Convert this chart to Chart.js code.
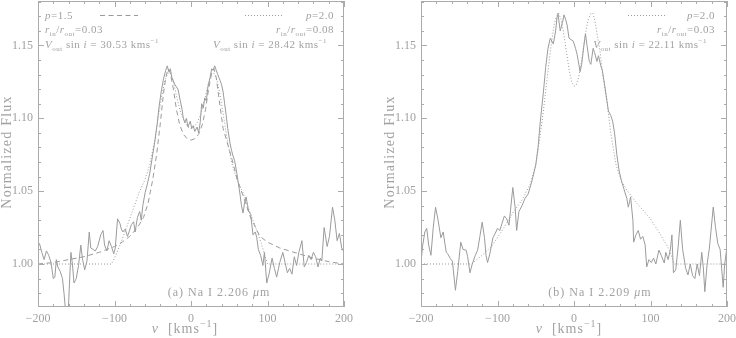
<!DOCTYPE html>
<html><head><meta charset="utf-8">
<script src="https://cdn.jsdelivr.net/npm/chart.js@4.4.0/dist/chart.umd.min.js"></script>
<style>
html,body{margin:0;padding:0;background:#fff;width:736px;height:338px;overflow:hidden}
canvas{position:absolute;top:0}
#ca{left:0}#cb{left:368px}
</style></head><body>
<canvas id="ca" width="368" height="338"></canvas>
<canvas id="cb" width="368" height="338"></canvas>
<script>
// ---------- data ----------
const xTicks = [-200, -100, 0, 100, 200];
const yTicks = [1.00, 1.05, 1.10, 1.15];

// Panel (a) Na I 2.206 observed
const obsA_v = [-200,-198,-195,-192,-189,-186,-183,-180,-178,-176,-174,-171,-168,-166,-163,-161,-159,-157,-155,-153,-150,-147,-144,-142,-139,-136,-133,-131,-128,-125,-122,-118,-115,-113,-110,-107,-104,-101,-99,-96,-93,-91,-89,-86,-83,-81,-78,-75,-73,-70,-67,-65,-63,-60,-57,-54,-51,-47,-44,-42,-39,-36,-33,-31,-29,-27,-25,-21,-17,-14,-12,-10,-8,-6,-4,-1,1,3,5,8,10,12,14,16,18,20,22,25,27,29,31,33,35,38,40,42,44,46,48,51,53,55,57,60,62,64,66,68,70,72,74,75,78,81,84,86,88,91,94,96,99,102,106,109,112,116,120,123,126,129,132,135,138,141,145,148,151,154,157,160,163,166,169,171,174,178,181,185,188,191,194,197,200];
const obsA_f = [1.012,1.014,1.008,1.003,1.009,1.006,1.001,0.990,0.991,1.003,0.998,0.995,0.990,0.980,0.962,0.960,0.985,1.008,1.000,0.987,0.990,0.999,1.013,1.004,0.996,1.002,1.022,1.011,1.010,1.009,1.012,1.020,1.023,1.013,1.009,1.016,1.012,1.007,1.011,1.031,1.028,1.024,1.022,1.024,1.019,1.022,1.027,1.029,1.022,1.032,1.036,1.030,1.040,1.049,1.055,1.062,1.072,1.085,1.097,1.107,1.118,1.127,1.133,1.136,1.132,1.134,1.128,1.123,1.120,1.112,1.107,1.100,1.097,1.100,1.094,1.098,1.093,1.095,1.091,1.094,1.090,1.097,1.110,1.107,1.114,1.112,1.121,1.128,1.134,1.133,1.136,1.133,1.130,1.126,1.123,1.118,1.110,1.102,1.093,1.083,1.078,1.074,1.071,1.062,1.055,1.048,1.040,1.035,1.042,1.046,1.040,1.037,1.034,1.020,1.022,1.018,1.010,1.006,0.999,1.008,0.987,0.993,1.004,0.997,0.991,1.001,1.008,1.001,0.994,0.997,0.993,1.005,0.999,1.008,1.016,0.998,1.001,1.006,1.003,1.008,1.005,0.998,1.004,1.002,1.025,1.012,1.019,1.039,1.030,1.016,1.021,1.011,1.008];

// Panel (a) model p=1.5 (dashed)
const modA15_v = [-200,-180,-160,-140,-120,-100,-90,-80,-70,-62,-56,-50,-45,-40,-36,-33,-30,-27,-23,-19,-15,-10,-5,0,5,10,15,19,23,27,30,33,37,42,47,53,61,70,77,90,100,116,138,160,181,200];
const modA15_f = [1.000,1.001,1.003,1.005,1.008,1.012,1.015,1.019,1.025,1.032,1.042,1.058,1.075,1.097,1.117,1.128,1.134,1.131,1.120,1.106,1.096,1.089,1.086,1.085,1.086,1.089,1.096,1.106,1.120,1.131,1.134,1.128,1.112,1.093,1.084,1.073,1.057,1.044,1.033,1.019,1.015,1.011,1.0075,1.004,1.0015,1.000];

// Panel (a) model p=2.0 (dotted)
const modA20_v = [-200,-104,-100,-92,-85,-76,-68,-60,-54,-48,-43,-38,-34,-30,-27,-23,-18,-13,-8,-4,0,4,8,13,18,23,27,30,34,38,43,48,54,60,68,76,86,92,97,100,200];
const modA20_f = [1.000,1.000,1.004,1.014,1.024,1.037,1.049,1.058,1.068,1.083,1.100,1.116,1.126,1.131,1.131,1.125,1.113,1.103,1.097,1.094,1.093,1.094,1.097,1.103,1.113,1.125,1.131,1.131,1.126,1.116,1.100,1.083,1.068,1.058,1.049,1.037,1.023,1.014,1.005,1.000,1.000];

// Panel (b) Na I 2.209 observed
const obsB_v = [-200,-198,-195,-192.5,-190,-187,-184,-181,-178,-174,-171,-167,-165,-162,-159,-155,-152,-148,-145,-141,-139,-136,-133,-129,-126,-123,-120,-117,-115,-113,-110,-106,-103,-100,-97,-94,-91,-88,-85,-83,-80,-77,-75,-72,-68,-64,-60,-55,-50,-47,-44,-40,-37,-34,-31,-29,-27,-24,-22,-21,-18,-15,-13,-11,-9,-6.5,-4,-1,2,4,6,8,10,13,15,17,20,22,25,27,30,32,35,37,40,43,45,48,50.5,53,56,59,62,65,69,71,74,77,78,81,84,87,90,93,95,98,101,104,107,111,114,118,120,123,126,128,130,133,136,139,142,146,149,152,155,158,161,164,167,169,171,174,177,182,185,188,191,195,197,200];
const obsB_f = [1.001,1.012,1.022,1.0245,1.013,1.006,1.025,1.039,1.031,1.018,1.022,1.008,1.007,1.004,1.002,0.982,0.995,1.015,1.010,1.0095,1.005,0.994,1.000,1.006,1.0095,1.019,1.0287,1.018,1.006,1.001,1.007,1.018,1.021,1.0245,1.023,1.028,1.033,1.031,1.0266,1.037,1.0525,1.039,1.023,1.036,1.040,1.045,1.048,1.057,1.068,1.080,1.098,1.118,1.135,1.148,1.155,1.153,1.151,1.160,1.170,1.172,1.160,1.166,1.171,1.168,1.164,1.155,1.154,1.153,1.148,1.144,1.138,1.132,1.137,1.150,1.158,1.150,1.139,1.137,1.148,1.145,1.139,1.143,1.136,1.133,1.123,1.112,1.105,1.102,1.098,1.090,1.075,1.064,1.057,1.052,1.045,1.039,1.046,1.030,1.015,1.020,1.023,1.017,1.019,1.013,0.998,1.003,1.001,1.004,1.000,1.0095,1.006,1.0007,1.008,1.003,1.010,1.020,0.994,0.996,1.011,1.030,1.010,0.997,0.9925,1.000,0.992,0.990,1.000,0.992,1.008,0.998,0.981,1.000,1.011,1.039,1.025,1.014,1.010,0.984,1.000,1.012];

// Panel (b) model p=2.0 (dotted)
const modB20_v = [-200,-134,-120,-108,-95,-80,-68,-57,-50,-45,-40,-35,-30,-26,-23,-20,-17,-14,-10,-6,-3,0,3,6,10,14,18,22,25,28,31,34,38,43,48,55,62,70,80,90,100,112,125,131,200];
const modB20_f = [1.000,1.000,1.006,1.012,1.022,1.035,1.044,1.055,1.068,1.085,1.105,1.128,1.150,1.164,1.170,1.172,1.168,1.160,1.146,1.132,1.125,1.122,1.123,1.128,1.140,1.155,1.167,1.172,1.172,1.165,1.155,1.146,1.128,1.112,1.090,1.068,1.057,1.050,1.043,1.037,1.031,1.021,1.0095,1.000,1.000];

// ---------- styling ----------
const GRAY_TXT = '#a2a2a2';
const GRAY_AX = '#ababab';
const GRAY_LN = '#9b9b9b';
const FONT = '"Liberation Serif", "DejaVu Serif", serif';
const FS = 12;

function pts(vs, fs){ return vs.map((v,i)=>({x:v, y:fs[i]})); }

function rich(ctx, segs, x, y, align, size){
  const fontFor = s => `${s.i?'italic ':''}${(s.sub||s.sup)?Math.round(size*0.68):size}px ${FONT}`;
  let w = 0;
  for (const s of segs){ ctx.font = fontFor(s); w += ctx.measureText(s.t).width; }
  let cx = align==='right' ? x-w : align==='center' ? x-w/2 : x;
  for (const s of segs){
    ctx.font = fontFor(s);
    const dy = s.sub ? size*0.28 : s.sup ? -size*0.45 : 0;
    ctx.fillText(s.t, cx, y+dy);
    cx += ctx.measureText(s.t).width;
  }
}

function sample(ctx, x1, x2, y, dash){
  ctx.save(); ctx.strokeStyle = GRAY_LN; ctx.lineWidth = 1; ctx.setLineDash(dash);
  ctx.beginPath(); ctx.moveTo(x1, y); ctx.lineTo(x2, y); ctx.stroke(); ctx.restore();
}

function framePlugin(extra){
  return {
    id: 'frame',
    afterDraw(chart){
      const {ctx, chartArea:a, scales:{x, y}} = chart;
      ctx.save();
      ctx.strokeStyle = GRAY_AX; ctx.lineWidth = 1;
      ctx.strokeRect(a.left+0.5, a.top+0.5, a.right-a.left-1, a.bottom-a.top-1);
      ctx.beginPath();
      for (let v=-200; v<=200; v+=20){
        const px = Math.round(x.getPixelForValue(v))+0.5;
        const L = (v%100===0) ? 6 : 3;
        ctx.moveTo(px, a.bottom); ctx.lineTo(px, a.bottom-L);
        ctx.moveTo(px, a.top); ctx.lineTo(px, a.top+L);
      }
      for (let k=98; k<=118; k++){
        const py = Math.round(y.getPixelForValue(k/100))+0.5;
        const L = (k%5===0) ? 6 : 3;
        ctx.moveTo(a.left, py); ctx.lineTo(a.left+L, py);
        ctx.moveTo(a.right, py); ctx.lineTo(a.right-L, py);
      }
      ctx.stroke();
      ctx.fillStyle = GRAY_TXT;
      ctx.textBaseline = 'alphabetic';
      extra(ctx, chart);
      ctx.restore();
    }
  };
}

function makeChart(id, datasets, yw, padRight, extra){
  return new Chart(document.getElementById(id), {
    type: 'line',
    data: { datasets },
    options: {
      responsive: false, animation: false, devicePixelRatio: 1,
      layout: { padding: { left: 0, right: padRight, top: 1, bottom: 0 } },
      plugins: { legend: { display: false }, tooltip: { enabled: false } },
      elements: { point: { radius: 0 }, line: { tension: 0, borderWidth: 1 } },
      scales: {
        x: {
          type: 'linear', min: -200, max: 200,
          grid: { display: false, drawTicks: false }, border: { display: false },
          afterBuildTicks: s => { s.ticks = xTicks.map(v => ({ value: v })); },
          afterFit: s => { s.height = 31; s.paddingLeft = 0; s.paddingRight = 0; },
          ticks: { padding: 5, color: GRAY_TXT, font: { family: FONT, size: FS },
                   maxRotation: 0, autoSkip: false,
                   callback: v => (v < 0 ? '\u2212' + Math.abs(v) : String(v)) }
        },
        y: {
          type: 'linear', min: 0.9705, max: 1.1805,
          grid: { display: false, drawTicks: false }, border: { display: false },
          afterBuildTicks: s => { s.ticks = yTicks.map(v => ({ value: v })); },
          afterFit: s => { s.width = yw; s.paddingTop = 0; s.paddingBottom = 0; },
          ticks: { padding: 5, color: GRAY_TXT, font: { family: FONT, size: FS },
                   autoSkip: false, callback: v => Number(v).toFixed(2) }
        }
      }
    },
    plugins: [framePlugin(extra)]
  });
}

function yTitle(ctx, cx, cy){
  ctx.save(); ctx.translate(cx, cy); ctx.rotate(-Math.PI/2);
  ctx.font = `14px ${FONT}`; ctx.letterSpacing = '1.2px';
  ctx.textAlign = 'center'; ctx.textBaseline = 'middle';
  ctx.fillText('Normalized Flux', 0, 0);
  ctx.restore();
}
function xTitle(ctx, cx, by){
  ctx.save(); ctx.letterSpacing = '1px';
  rich(ctx, [{t:'v', i:true}, {t:'  [kms'}, {t:'\u22121', sup:true}, {t:']'}], cx, by, 'center', 14);
  ctx.restore();
}
function vLine(val){ return [{t:'V', i:true}, {t:'out', sub:true}, {t:' sin '}, {t:'i', i:true}, {t:' = ' + val + ' kms'}, {t:'\u22121', sup:true}]; }
function rLine(val){ return [{t:'r', i:true}, {t:'in', sub:true}, {t:'/'}, {t:'r', i:true}, {t:'out', sub:true}, {t:'=' + val}]; }
function pLine(val){ return [{t:'p', i:true}, {t:'=' + val}]; }

makeChart('ca', [
  { data: pts(obsA_v, obsA_f), borderColor: GRAY_LN, borderWidth: 1 },
  { data: pts(modA15_v, modA15_f), borderColor: GRAY_LN, borderWidth: 1, borderDash: [5, 3.5] },
  { data: pts(modA20_v, modA20_f), borderColor: GRAY_LN, borderWidth: 1, borderDash: [1, 2] }
], 38, 24, (ctx) => {
  ctx.letterSpacing = '0.5px';
  rich(ctx, pLine('1.5'), 45, 19, 'left', 11);
  sample(ctx, 100, 138, 15.5, [5, 3.5]);
  rich(ctx, rLine('0.03'), 45, 33, 'left', 11);
  rich(ctx, vLine('30.53'), 45, 48, 'left', 11);
  sample(ctx, 245, 283, 15.5, [1, 2]);
  rich(ctx, pLine('2.0'), 334, 19, 'right', 11);
  rich(ctx, rLine('0.08'), 334, 33, 'right', 11);
  rich(ctx, vLine('28.42'), 327, 48, 'right', 11);
  ctx.letterSpacing = '1px';
  rich(ctx, [{t:'(a) Na I 2.206 '}, {t:'\u03bc', i:true}, {t:'m'}], 219, 296, 'center', 12);
  xTitle(ctx, 185, 333);
  yTitle(ctx, 7, 152);
});

makeChart('cb', [
  { data: pts(obsB_v, obsB_f), borderColor: GRAY_LN, borderWidth: 1 },
  { data: pts(modB20_v, modB20_f), borderColor: GRAY_LN, borderWidth: 1, borderDash: [1, 2] }
], 53, 9, (ctx) => {
  ctx.letterSpacing = '0.5px';
  sample(ctx, 260, 297, 15.5, [1, 2]);
  rich(ctx, pLine('2.0'), 347, 19, 'right', 11);
  rich(ctx, rLine('0.03'), 347, 33, 'right', 11);
  rich(ctx, vLine('22.11'), 339, 48, 'right', 11);
  ctx.letterSpacing = '1px';
  rich(ctx, [{t:'(b) Na I 2.209 '}, {t:'\u03bc', i:true}, {t:'m'}], 232, 296, 'center', 12);
  xTitle(ctx, 201, 333);
  yTitle(ctx, 22, 152);
});
</script>
</body></html>
